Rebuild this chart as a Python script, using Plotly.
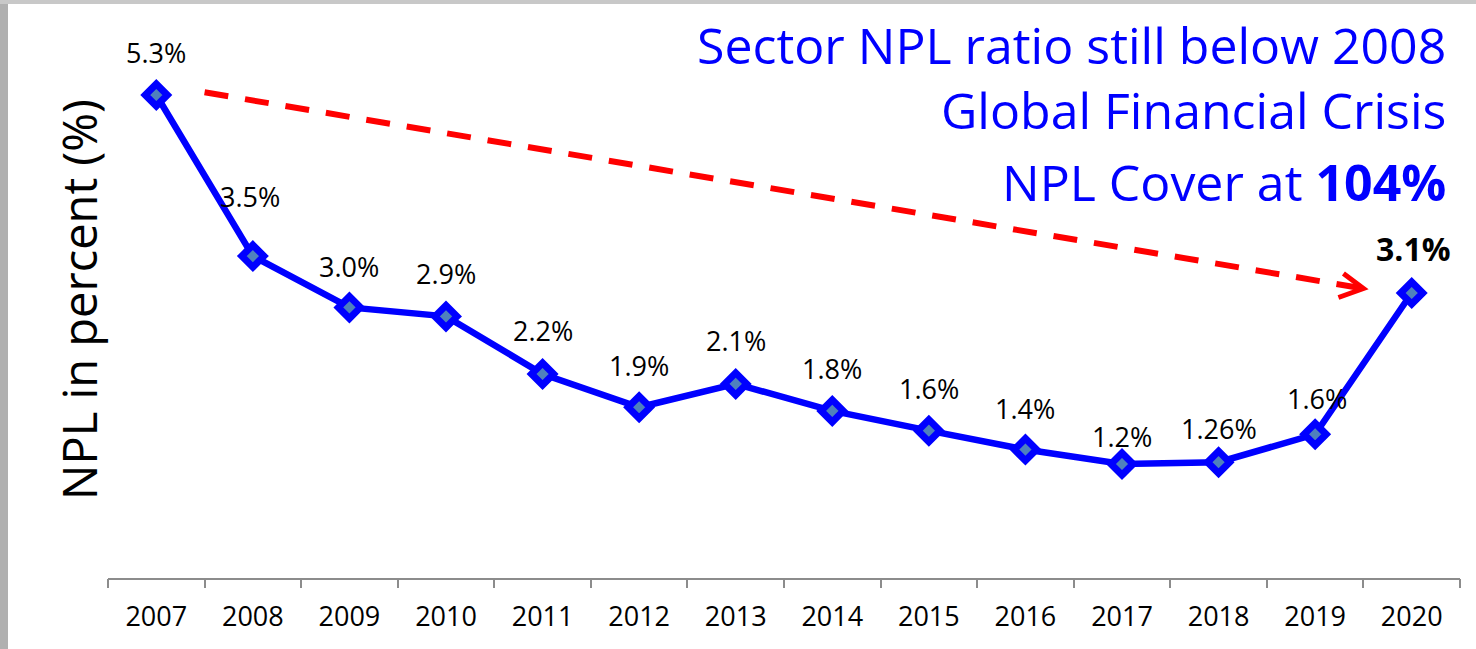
import plotly.graph_objects as go

years = ["2007", "2008", "2009", "2010", "2011", "2012", "2013",
         "2014", "2015", "2016", "2017", "2018", "2019", "2020"]
npl_ratio = [5.30, 3.51, 2.94, 2.84, 2.20, 1.83, 2.09,
             1.79, 1.57, 1.36, 1.20, 1.22, 1.53, 3.10]
value_labels = ["5.3%", "3.5%", "3.0%", "2.9%", "2.2%", "1.9%", "2.1%",
                "1.8%", "1.6%", "1.4%", "1.2%", "1.26%", "1.6%", "3.1%"]

# styling / layout (not data)
W, H = 1476, 649
ML, MR, MT, MB = 108, 16, 5, 71
PW, PH = W - ML - MR, H - MT - MB
label_yshift = [43, 60, 41, 43, 43, 42, 43, 42, 42, 41, 27, 34, 36, 44]
label_xshift = [0, -3, 0, 0, 0, 0, 0, 0, 0, 0, 0, 0, 2, 2]
FONT = "Open Sans"

idx = list(range(len(years)))

fig = go.Figure()
fig.add_trace(go.Scatter(
    x=idx, y=npl_ratio, mode="lines+markers",
    line=dict(color="#0000FF", width=6.5),
    marker=dict(symbol="diamond", size=17, color="#4f81bd",
                line=dict(color="#0000FF", width=7)),
    customdata=years, hovertemplate="%{customdata}: %{y}<extra></extra>",
    showlegend=False,
))

annotations = []
for i, (v, t) in enumerate(zip(npl_ratio, value_labels)):
    last = i == len(years) - 1
    annotations.append(dict(
        x=i, y=v, xref="x", yref="y", text=("<b>%s</b>" % t) if last else t,
        showarrow=False, yshift=label_yshift[i], xshift=label_xshift[i],
        xanchor="center", yanchor="middle",
        font=dict(family=FONT, size=32 if last else 27, color="black"),
    ))

def py(pix):
    return (MT + PH - pix) / PH

def px(pix):
    return (pix - ML) / PW

title_lines = ["Sector NPL ratio still below 2008",
               "Global Financial Crisis",
               "NPL Cover at <b>104%</b>"]
title_y = [45, 110, 182]
for txt, yy in zip(title_lines, title_y):
    annotations.append(dict(
        x=px(1448), y=py(yy), xref="paper", yref="paper", text=txt,
        showarrow=False, xanchor="right", yanchor="middle",
        font=dict(family=FONT, size=50, color="#0000FF"),
    ))

annotations.append(dict(
    x=px(79), y=py(300), xref="paper", yref="paper",
    text="NPL in percent (%)", textangle=-90, showarrow=False,
    xanchor="center", yanchor="middle",
    font=dict(family=FONT, size=47, color="black"),
))

# trend arrow from 2007 level to 2020 level
x_start, x_end = 0.5, len(years) - 1.5
shapes = [
    dict(type="line", xref="x", yref="y",
         x0=x_start, y0=npl_ratio[0] + 0.03, x1=x_end, y1=npl_ratio[-1] + 0.05,
         line=dict(color="#FF0000", width=6, dash="24px,17px")),
    dict(type="path", xref="x", yref="y", xsizemode="pixel", ysizemode="pixel",
         xanchor=x_end, yanchor=npl_ratio[-1] + 0.05,
         path="M -20 15 L 0 0 L -25 -9",
         line=dict(color="#FF0000", width=5)),
    # slide frame edges
    dict(type="rect", xref="paper", yref="paper", x0=px(0), x1=px(8),
         y0=py(H), y1=py(0), fillcolor="#b0b0b0", line=dict(width=0), layer="above"),
    dict(type="rect", xref="paper", yref="paper", x0=px(0), x1=px(W),
         y0=py(4), y1=py(0), fillcolor="#c8c8c8", line=dict(width=0), layer="above"),
]

fig.update_layout(
    width=W, height=H,
    margin=dict(l=ML, r=MR, t=MT, b=MB),
    paper_bgcolor="white", plot_bgcolor="white",
    annotations=annotations, shapes=shapes,
    xaxis=dict(range=[-0.5, len(years) - 0.5],
               tickmode="array", tickvals=idx, ticktext=years,
               ticks="", showline=True, linecolor="#8c8c8c", linewidth=2,
               showgrid=False, zeroline=False, ticklabelstandoff=14,
               tickfont=dict(family=FONT, size=27, color="black")),
    xaxis2=dict(overlaying="x", range=[-0.5, len(years) - 0.5],
                tickmode="array", tickvals=[i - 0.5 for i in idx] + [len(years) - 0.5],
                ticks="outside", ticklen=9, tickcolor="#8c8c8c", tickwidth=2,
                showticklabels=False, showgrid=False, zeroline=False,
                showline=False, side="bottom", anchor="y"),
    yaxis=dict(range=[-0.067, 6.3], visible=False, fixedrange=True),
)
# invisible trace to activate the boundary tick axis
fig.add_trace(go.Scatter(x=[None], y=[None], xaxis="x2", showlegend=False,
                         hoverinfo="skip"))

fig.write_html(
    "out.html",
    config={"displayModeBar": False},
    post_script="document.body.style.margin='0';"
                "document.documentElement.style.overflow='hidden';"
                "document.body.style.overflow='hidden';",
)
